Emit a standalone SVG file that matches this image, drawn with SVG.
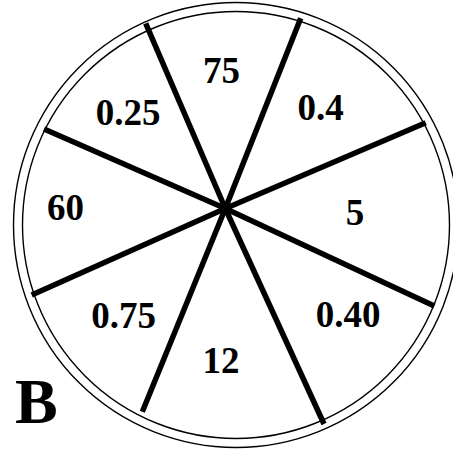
<svg xmlns="http://www.w3.org/2000/svg" width="453" height="456" viewBox="0 0 453 456">
<style>
.ring{fill:none;stroke:#000;stroke-width:1.4}
.spoke{stroke:#000;stroke-width:5.5;stroke-linecap:butt}
.lbl{font-family:"Liberation Serif","Times New Roman",serif;font-weight:bold;font-size:37px;text-anchor:middle;fill:#000}
.big{font-family:"Liberation Serif","Times New Roman",serif;font-weight:bold;font-size:64px;fill:#000}
</style>
<rect width="453" height="456" fill="#fff"/>
<g id="rim">
<circle class="ring" cx="236" cy="225" r="222.5"/>
<circle class="ring" cx="236" cy="225" r="213.5"/>
</g>
<g id="connectors">
<line class="spoke" x1="145.7" y1="23.3" x2="225.3" y2="208.5"/>
<line class="spoke" x1="300.7" y1="18.3" x2="225.3" y2="208.5"/>
<line class="spoke" x1="425.7" y1="122.7" x2="225.3" y2="208.5"/>
<line class="spoke" x1="434.3" y1="306" x2="225.3" y2="208.5"/>
<line class="spoke" x1="324" y1="424" x2="225.3" y2="208.5"/>
<line class="spoke" x1="142.3" y1="411.7" x2="225.3" y2="208.5"/>
<line class="spoke" x1="31.7" y1="295" x2="225.3" y2="208.5"/>
<line class="spoke" x1="44" y1="129" x2="225.3" y2="208.5"/>
</g>
<g id="s75"><text class="lbl" x="221.5" y="82.5">75</text></g>
<g id="s04"><text class="lbl" x="320.5" y="120">0.4</text></g>
<g id="s5"><text class="lbl" x="355" y="225">5</text></g>
<g id="s040"><text class="lbl" x="348" y="327">0.40</text></g>
<g id="s12"><text class="lbl" x="221" y="372.5">12</text></g>
<g id="s075"><text class="lbl" x="123.5" y="328">0.75</text></g>
<g id="s60"><text class="lbl" x="65.5" y="220">60</text></g>
<g id="s025"><text class="lbl" x="128" y="125">0.25</text></g>
<g id="labelB"><text class="big" x="15" y="423">B</text></g>
</svg>
